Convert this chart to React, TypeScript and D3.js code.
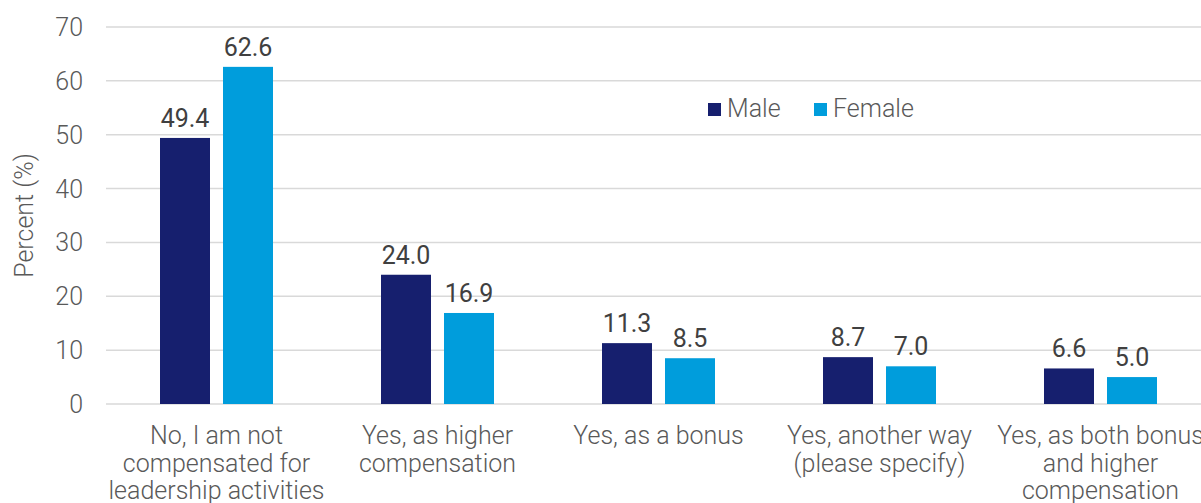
import React, { useRef, useEffect } from 'react';
import * as d3 from 'd3';

const categories = [
  ['No, I am not', 'compensated for', 'leadership activities'],
  ['Yes, as higher', 'compensation'],
  ['Yes, as a bonus'],
  ['Yes, another way', '(please specify)'],
  ['Yes, as both bonus', 'and higher', 'compensation'],
];
const maleValues = [49.4, 24.0, 11.3, 8.7, 6.6];
const femaleValues = [62.6, 16.9, 8.5, 7.0, 5.0];
const seriesNames = ['Male', 'Female'];
const yTicks = [0, 10, 20, 30, 40, 50, 60, 70];

const colors = ['#161f6e', '#009ddc'];
const font = 'Roboto, "Liberation Sans", Arial, sans-serif';
const fontSize = 25;

const App: React.FC = () => {
  const svgRef = useRef<SVGSVGElement>(null);

  useEffect(() => {
    if (!svgRef.current) return;
    const svg = d3.select(svgRef.current);
    svg.selectAll('*').remove();

    const width = 1201;
    const height = 503;
    const margin = { top: 27, left: 106, bottom: 99 };
    const plotRight = 1211;
    const y0 = height - margin.bottom;

    const x = d3.scaleBand<number>()
      .domain(categories.map((_, i) => i))
      .range([margin.left, plotRight]);

    const xInner = d3.scaleBand<number>()
      .domain([0, 1])
      .range([0, 113])
      .paddingInner(13 / 63);

    const y = d3.scaleLinear().domain([0, 70]).range([y0, margin.top]);

    // grid lines
    svg.append('g')
      .selectAll('line')
      .data(yTicks)
      .enter().append('line')
      .attr('x1', margin.left).attr('x2', width)
      .attr('y1', d => y(d)).attr('y2', d => y(d))
      .attr('stroke', '#d9d9d9')
      .attr('stroke-width', 1.5);

    // y tick labels
    svg.append('g')
      .selectAll('text')
      .data(yTicks)
      .enter().append('text')
      .attr('x', 83)
      .attr('y', d => y(d) + 9)
      .attr('text-anchor', 'end')
      .attr('font-family', font)
      .attr('font-weight', 300)
      .attr('font-size', fontSize)
      .attr('fill', '#595959')
      .text(d => d);

    // axis title
    svg.append('text')
      .attr('transform', `translate(33,${(y0 + margin.top) / 2}) rotate(-90)`)
      .attr('text-anchor', 'middle')
      .attr('font-family', font)
      .attr('font-weight', 300)
      .attr('font-size', fontSize)
      .attr('fill', '#595959')
      .text('Percent (%)');

    const series = [maleValues, femaleValues];
    const offset = (x.bandwidth() - 113) / 2;

    series.forEach((vals, s) => {
      const g = svg.append('g');
      g.selectAll('rect')
        .data(vals)
        .enter().append('rect')
        .attr('x', (_, i) => (x(i) || 0) + offset + (xInner(s) || 0))
        .attr('y', d => y(d))
        .attr('width', xInner.bandwidth())
        .attr('height', d => y0 - y(d))
        .attr('fill', colors[s]);

      g.selectAll('text')
        .data(vals)
        .enter().append('text')
        .attr('x', (_, i) => (x(i) || 0) + offset + (xInner(s) || 0) + xInner.bandwidth() / 2)
        .attr('y', d => y(d) - 11)
        .attr('text-anchor', 'middle')
        .attr('font-family', font)
        .attr('font-size', fontSize)
        .attr('fill', '#404040')
        .text(d => d.toFixed(1));
    });

    // category labels
    const cat = svg.append('g');
    categories.forEach((lines, i) => {
      const cx = (x(i) || 0) + x.bandwidth() / 2;
      const t = cat.append('text')
        .attr('x', cx)
        .attr('y', y0 + 40)
        .attr('text-anchor', 'middle')
        .attr('font-family', font)
        .attr('font-weight', 300)
        .attr('font-size', fontSize)
        .attr('fill', '#595959');
      lines.forEach((ln, j) => {
        t.append('tspan')
          .attr('x', cx)
          .attr('dy', j === 0 ? 0 : 27.5)
          .text(ln);
      });
    });

    // legend
    const legendX = [708, 814];
    seriesNames.forEach((name, s) => {
      svg.append('rect')
        .attr('x', legendX[s]).attr('y', 103)
        .attr('width', 13).attr('height', 13)
        .attr('fill', colors[s]);
      svg.append('text')
        .attr('x', legendX[s] + 19).attr('y', 117)
        .attr('font-family', font)
        .attr('font-weight', 300)
        .attr('font-size', fontSize)
        .attr('fill', '#595959')
        .text(name);
    });
  }, []);

  return (
    <svg
      ref={svgRef}
      width={1201}
      height={503}
      style={{ position: 'absolute', left: 0, top: 0, background: '#fff' }}
    />
  );
};

export default App;
